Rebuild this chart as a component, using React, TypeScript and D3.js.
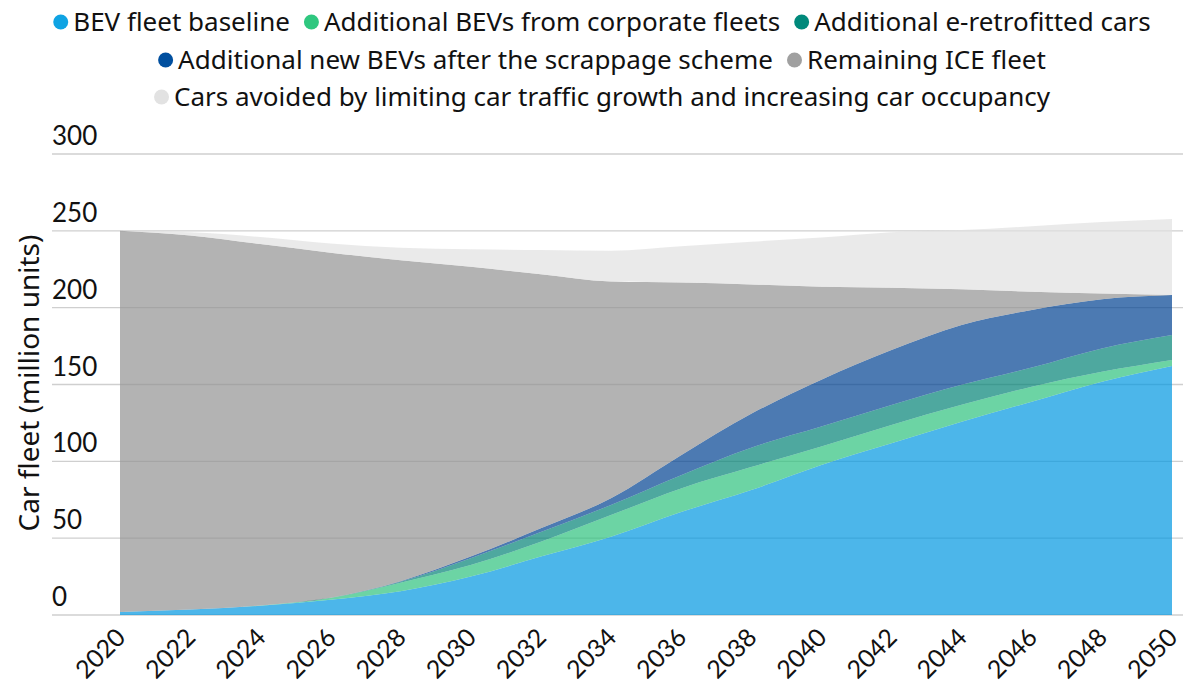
import React, { useEffect, useRef } from "react";
import * as d3 from "d3";

// values in million cars (every 2 years)
const years = [2020, 2022, 2024, 2026, 2028, 2030, 2032, 2034, 2036, 2038, 2040, 2042, 2044, 2046, 2048, 2050];
const bevBaseline = [2, 3.5, 6, 10, 15.5, 25, 38, 51, 67, 81.3, 97.6, 111.7, 125.8, 138.8, 151.8, 162];
const corporateFleets = [0, 0, 0.2, 1, 5.5, 7.5, 9.7, 14, 15.4, 15, 12, 12, 11, 9.8, 6.5, 4];
const eRetrofitted = [0, 0, 0, 0.2, 0.7, 4.5, 6.3, 6.6, 8.6, 12.6, 13, 13, 13, 12.4, 15.2, 16.2];
const scrappageBevs = [0, 0, 0, 0, 0.3, 1, 2.4, 4.4, 13, 22, 30.5, 35.7, 39, 37.5, 32, 26];
const remainingIce = [248, 243.5, 235.2, 224.6, 208.8, 188.7, 165.3, 141, 112.3, 84.2, 60.5, 40.6, 23.2, 11.9, 3.8, 0];
const carsAvoided = [0, 2, 4.6, 6, 8.2, 11.3, 15.8, 20, 23.7, 27.8, 32, 36, 38.5, 42.6, 46.4, 49.5];

const seriesKeys = ["bev", "corp", "retro", "scrap", "ice", "avoided"];
const seriesLabels = [
  "BEV fleet baseline",
  "Additional BEVs from corporate fleets",
  "Additional e-retrofitted cars",
  "Additional new BEVs after the scrappage scheme",
  "Remaining ICE fleet",
  "Cars avoided by limiting car traffic growth and increasing car occupancy",
];
const legendColors = ["#0fa3e3", "#2fc77f", "#00897b", "#004f9f", "#a0a0a0", "#e2e2e2"];
const areaColors = ["#0097e1", "#2ec27e", "#038376", "#004292", "#939393", "#e1e1e1"];
const legendRows = [[0, 1, 2], [3, 4], [5]];
const yTicks = [0, 50, 100, 150, 200, 250, 300];
const xTicks = d3.range(2020, 2051, 2);

const W = 1183,
  H = 686;
const FONT = "Lato, sans-serif";
const FONT_WIDE = "'Noto Sans', sans-serif";

const App = () => {
  const ref = useRef<SVGSVGElement>(null);

  useEffect(() => {
    const svg = d3.select(ref.current);
    svg.selectAll("*").remove();

    const table = years.map((yr, i) => ({
      year: yr,
      bev: bevBaseline[i],
      corp: corporateFleets[i],
      retro: eRetrofitted[i],
      scrap: scrappageBevs[i],
      ice: remainingIce[i],
      avoided: carsAvoided[i],
    }));

    let x = d3.scaleLinear().domain([2020, 2050]).range([120, 1172]);
    let y = d3.scaleLinear().domain([0, 300]).range([615, 154]);

    // gridlines (under the translucent areas)
    svg
      .append("g")
      .selectAll("line")
      .data(yTicks)
      .enter()
      .append("line")
      .attr("x1", 52)
      .attr("x2", W)
      .attr("y1", (d) => y(d))
      .attr("y2", (d) => y(d))
      .attr("stroke", "#cfcfcf")
      .attr("stroke-width", 1.3);

    let stacked = d3.stack<any>().keys(seriesKeys)(table);

    let area = d3
      .area<any>()
      .x((d) => x(d.data.year))
      .y0((d) => y(d[0]))
      .y1((d) => y(d[1]))
      .curve(d3.curveMonotoneX);

    svg
      .append("g")
      .selectAll("path")
      .data(stacked)
      .enter()
      .append("path")
      .attr("d", area as any)
      .attr("fill", (d, i) => areaColors[i])
      .attr("fill-opacity", 0.7);

    // y tick labels sit above their gridline
    svg
      .append("g")
      .selectAll("text")
      .data(yTicks)
      .enter()
      .append("text")
      .attr("x", 52)
      .attr("y", (d) => y(d) - 9)
      .attr("font-family", FONT)
      .attr("font-size", 26)
      .attr("fill", "#111")
      .text((d) => d);

    svg
      .append("g")
      .selectAll("text")
      .data(xTicks)
      .enter()
      .append("text")
      .attr("text-anchor", "end")
      .attr("transform", (d) => "translate(" + (x(d) + 7) + ",639) rotate(-45)")
      .attr("font-family", FONT)
      .attr("font-size", 25)
      .attr("fill", "#111")
      .text((d) => d);

    svg
      .append("text")
      .attr("transform", "translate(39,383) rotate(-90)")
      .attr("text-anchor", "middle")
      .attr("font-family", FONT_WIDE)
      .attr("font-size", 28)
      .attr("fill", "#111")
      .text("Car fleet (million units)");

    // legend, three centred rows
    const rowY = [22, 60, 97];
    legendRows.forEach((row, r) => {
      let g = svg.append("g");
      let cx = 0;
      row.forEach((idx, j) => {
        g.append("circle")
          .attr("cx", cx + 7.5)
          .attr("cy", rowY[r])
          .attr("r", 7.5)
          .attr("fill", legendColors[idx]);
        let t = g
          .append("text")
          .attr("x", cx + 20)
          .attr("y", rowY[r] + 9)
          .attr("font-family", FONT_WIDE)
          .attr("font-size", 26)
          .attr("fill", "#111")
          .text(seriesLabels[idx]);
        let len = (t.node() as SVGTextElement).getComputedTextLength();
        cx += 20 + len + (j < row.length - 1 ? 14 : 0);
      });
      g.attr("transform", "translate(" + (602 - cx / 2) + ",0)");
    });
  }, []);

  return (
    <svg
      ref={ref}
      width={W}
      height={H}
      style={{ position: "absolute", left: 0, top: 0, background: "#fff" }}
    />
  );
};

export default App;
